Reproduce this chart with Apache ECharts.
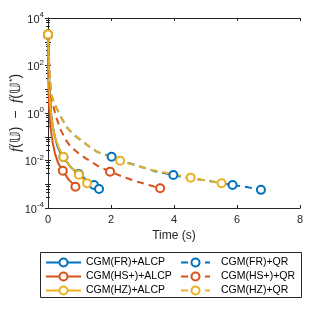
<!DOCTYPE html>
<html>
<head>
<meta charset="utf-8">
<script src="https://cdn.jsdelivr.net/npm/echarts@6/dist/echarts.min.js"></script>
<style>
html, body { margin: 0; padding: 0; background: #fff; }
#chart { width: 332px; height: 332px; }
</style>
</head>
<body>
<div id="chart"></div>
<script>
// colours of the default matlab palette
var colBlue = '#0072BD', colRed = '#D95319', colYellow = '#EDB120';
var txt = '#262626';

// CGM(FR)+ALCP
var frAlcpT = [0, 0.02, 0.05, 0.1, 0.15, 0.22, 0.3, 0.4, 0.49, 0.6, 0.75, 0.98, 1.2, 1.46, 1.62];
var frAlcpY = [2e3, 1.3e2, 1.3e1, 1.0, 2.8e-1, 1.0e-1, 4.0e-2, 2.0e-2, 1.4e-2, 8.5e-3, 4.8e-3, 2.7e-3, 1.6e-3, 9.3e-4, 6.3e-4];
var frAlcpMarks = [0, 8, 11, 13, 14];

// CGM(HS+)+ALCP
var hsAlcpT = [0, 0.01, 0.03, 0.06, 0.09, 0.15, 0.22, 0.32, 0.47, 0.65, 0.87];
var hsAlcpY = [2e3, 3.2e1, 2.5, 5e-1, 2e-1, 5.6e-2, 2e-2, 7.9e-3, 3.7e-3, 1.6e-3, 7.9e-4];
var hsAlcpMarks = [0, 8, 10];

// CGM(HZ)+ALCP
var hzAlcpT = [0, 0.02, 0.04, 0.08, 0.12, 0.17, 0.22, 0.33, 0.49, 0.7, 0.98, 1.24];
var hzAlcpY = [2e3, 1e2, 1.3e1, 1.6, 5e-1, 2e-1, 1e-1, 3.7e-2, 1.4e-2, 5.6e-3, 2.5e-3, 1.1e-3];
var hzAlcpMarks = [0, 8, 10, 11];

// CGM(FR)+QR
var frQrT = [0, 0.03, 0.06, 0.1, 0.2, 0.3, 0.45, 0.61, 0.8, 1.04, 1.3, 1.56, 2.02, 2.5, 3.0, 3.4, 3.98, 4.5, 5.0, 5.5, 5.86, 6.3, 6.76];
var frQrY = [2e3, 2e2, 3.2e1, 5.8, 2.6, 1.35, 5.4e-1, 2.4e-1, 1.26e-1, 7.2e-2, 4e-2, 2.3e-2, 1.45e-2, 8.3e-3, 5.2e-3, 3.5e-3, 2.45e-3, 1.8e-3, 1.45e-3, 1.12e-3, 9.3e-4, 7.6e-4, 5.8e-4];
var frQrMarks = [0, 12, 16, 20, 22];

// CGM(HS+)+QR
var hsQrT = [0, 0.02, 0.05, 0.1, 0.17, 0.24, 0.4, 0.55, 0.72, 0.95, 1.2, 1.62, 1.97, 2.4, 2.82, 3.2, 3.56];
var hsQrY = [2e3, 1e2, 2e1, 4.9, 2, 7.9e-1, 2e-1, 7.9e-2, 3.8e-2, 2.1e-2, 1.23e-2, 5.5e-3, 3.4e-3, 2e-3, 1.3e-3, 9.3e-4, 6.8e-4];
var hsQrMarks = [0, 12, 16];

// CGM(HZ)+QR
var hzQrT = [0, 0.03, 0.06, 0.1, 0.2, 0.3, 0.45, 0.61, 0.8, 1.04, 1.3, 1.56, 2.02, 2.29, 2.8, 3.3, 3.9, 4.53, 5.0, 5.51];
var hzQrY = [2e3, 2e2, 3.2e1, 5.8, 2.6, 1.35, 5.4e-1, 2.4e-1, 1.26e-1, 7.2e-2, 4e-2, 2.3e-2, 1.35e-2, 9.8e-3, 6e-3, 4e-3, 2.75e-3, 1.9e-3, 1.45e-3, 1.1e-3];
var hzQrMarks = [0, 13, 17, 19];

function makeData(ts, ys, marks) {
    var out = [];
    for (var i = 0; i < ts.length; i++) {
        var p = {value: [ts[i], ys[i]]};
        if (marks.indexOf(i) < 0) p.symbol = 'none';
        out.push(p);
    }
    return out;
}

function makeSeries(name, ts, ys, marks, color, dashed) {
    return {
        name: name,
        type: 'line',
        data: makeData(ts, ys, marks),
        symbol: 'emptyCircle',
        symbolSize: 8,
        showAllSymbol: true,
        color: color,
        lineStyle: {width: 2, color: color, type: dashed ? [7, 5] : 'solid'},
        itemStyle: {color: color, borderColor: color, borderWidth: 2},
        emphasis: {disabled: true},
        animation: false,
        z: 2
    };
}

var series = [
    makeSeries('CGM(FR)+ALCP', frAlcpT, frAlcpY, frAlcpMarks, colBlue, false),
    makeSeries('CGM(HS+)+ALCP', hsAlcpT, hsAlcpY, hsAlcpMarks, colRed, false),
    makeSeries('CGM(HZ)+ALCP', hzAlcpT, hzAlcpY, hzAlcpMarks, colYellow, false),
    makeSeries('CGM(FR)+QR', frQrT, frQrY, frQrMarks, colBlue, true),
    makeSeries('CGM(HS+)+QR', hsQrT, hsQrY, hsQrMarks, colRed, true),
    makeSeries('CGM(HZ)+QR', hzQrT, hzQrY, hzQrMarks, colYellow, true)
];

var font = 'Liberation Sans';

function logLabel(v) {
    var e = Math.round(Math.log10(v));
    if (e % 2 !== 0) return '';
    return '{b|10}{sup|' + e + '}';
}

var legendBase = {
    orient: 'vertical',
    top: 257,
    itemGap: 3,
    itemHeight: 10,
    padding: 0,
    textStyle: {fontFamily: font, fontSize: 10.5, color: '#000'},
    selectedMode: false
};

var chart = echarts.init(document.getElementById('chart'), null, {renderer: 'canvas'});
chart.setOption({
    animation: false,
    grid: {left: 48, right: 32, top: 18, bottom: 124, outerBoundsMode: 'none', containLabel: false},
    xAxis: [{
        type: 'value', min: 0, max: 8, interval: 2,
        name: 'Time (s)', nameLocation: 'middle', nameGap: 20,
        nameTextStyle: {fontFamily: font, fontSize: 12, color: txt},
        axisLine: {lineStyle: {color: txt, width: 1}},
        axisTick: {inside: true, length: 3, lineStyle: {color: txt}},
        axisLabel: {fontFamily: font, fontSize: 11, color: txt, margin: 6},
        splitLine: {show: false}
    }, {
        type: 'value', min: 0, max: 8, interval: 2, position: 'top',
        axisLine: {show: true, onZero: false, lineStyle: {color: txt, width: 1}},
        axisTick: {inside: true, length: 3, lineStyle: {color: txt}},
        axisLabel: {show: false},
        splitLine: {show: false}
    }],
    yAxis: [{
        type: 'log', logBase: 10, min: 1e-4, max: 1e4, interval: 1,
        axisLine: {lineStyle: {color: txt, width: 1}},
        axisTick: {inside: true, length: 3, lineStyle: {color: txt}},
        minorTick: {show: true, splitNumber: 5, length: 2, lineStyle: {color: txt}},
        axisLabel: {
            fontFamily: font, color: txt, margin: 4,
            formatter: logLabel,
            rich: {
                b: {fontFamily: font, fontSize: 11, color: txt, verticalAlign: 'bottom'},
                sup: {fontFamily: font, fontSize: 8, color: txt, verticalAlign: 'bottom', padding: [0, 0, 6, 0]}
            }
        },
        splitLine: {show: false}
    }, {
        type: 'log', logBase: 10, min: 1e-4, max: 1e4, interval: 1, position: 'right',
        axisLine: {show: true, lineStyle: {color: txt, width: 1}},
        axisTick: {inside: true, length: 3, lineStyle: {color: txt}},
        minorTick: {show: true, splitNumber: 5, length: 2, lineStyle: {color: txt}},
        axisLabel: {show: false},
        splitLine: {show: false}
    }],
    legend: [
        Object.assign({}, legendBase, {left: 45, itemWidth: 35, data: ['CGM(FR)+ALCP', 'CGM(HS+)+ALCP', 'CGM(HZ)+ALCP']}),
        Object.assign({}, legendBase, {left: 180, itemWidth: 29, textStyle: {fontFamily: font, fontSize: 10.5, color: '#000', padding: [0, 0, 0, 6]}, data: ['CGM(FR)+QR', 'CGM(HS+)+QR', 'CGM(HZ)+QR']})
    ],
    graphic: [{
        type: 'rect',
        shape: {x: 40.5, y: 252.5, width: 261, height: 45},
        style: {fill: 'none', stroke: txt, lineWidth: 1}
    }, {
        // y axis title, rotated
        type: 'text',
        x: 16, y: 113,
        rotation: Math.PI / 2,
        style: {
            text: '{it|f}(𝕌)  −  {it|f}(𝕌{s|*})',
            align: 'center', verticalAlign: 'middle',
            fontFamily: font, fontSize: 14, fill: txt,
            rich: {
                it: {fontFamily: 'Liberation Serif', fontStyle: 'italic', fontSize: 15, fill: txt, verticalAlign: 'bottom'},
                s: {fontSize: 9, fill: txt, verticalAlign: 'bottom', padding: [0, 0, 7, 0]}
            }
        }
    }],
    series: series
});
</script>
</body>
</html>
